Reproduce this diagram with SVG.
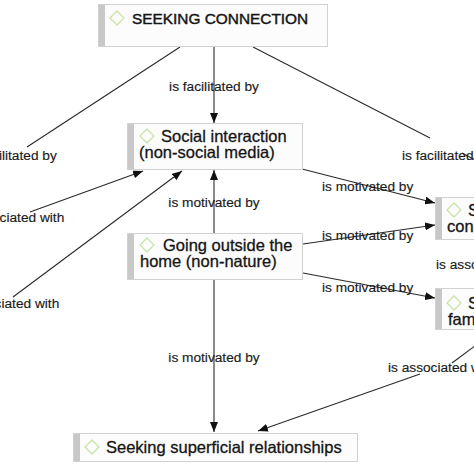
<svg xmlns="http://www.w3.org/2000/svg" width="474" height="474" viewBox="0 0 474 474">
<style>
.box{fill:#fcfcfc;stroke:#d2d2d2;stroke-width:1}
.stripe{fill:#c8c8c8}
.dia{fill:none;stroke:#c9e4a6;stroke-width:1.3}
.nt{font-family:"Liberation Sans",Arial,sans-serif;font-size:16.5px;fill:#151515;stroke:#151515;stroke-width:0.3}
.lb{font-family:"Liberation Sans",Arial,sans-serif;font-size:13.7px;fill:#1a1a1a;stroke:#1a1a1a;stroke-width:0.15}
.ln{stroke:#2a2a2a;stroke-width:1.1;fill:none}
.ar{marker-end:url(#ah)}
</style>
<defs>
<marker id="ah" markerUnits="userSpaceOnUse" markerWidth="10" markerHeight="8" refX="10" refY="4" orient="auto">
<path d="M0,0 L10,4 L0,8 z" fill="#111"/>
</marker>
</defs>
<rect width="474" height="474" fill="#ffffff"/>
<g id="connectors">
<line class="ln" x1="180" y1="47" x2="27" y2="147"/>
<line class="ln ar" x1="30" y1="212" x2="143" y2="171"/>
<line class="ln ar" x1="13" y1="297" x2="182" y2="171"/>
<line class="ln ar" x1="214" y1="47" x2="214" y2="123"/>
<line class="ln" x1="253" y1="47" x2="430" y2="138"/>
<line class="ln" x1="462" y1="153" x2="490" y2="168"/>
<line class="ln ar" x1="214" y1="233" x2="214" y2="170"/>
<line class="ln ar" x1="214" y1="280" x2="214" y2="432"/>
<line class="ln ar" x1="302" y1="169" x2="435" y2="203"/>
<line class="ln ar" x1="303" y1="244" x2="435" y2="225"/>
<line class="ln ar" x1="303" y1="273" x2="435" y2="298"/>
<line class="ln" x1="495" y1="331" x2="452" y2="363"/>
<line class="ln ar" x1="420" y1="374" x2="258" y2="431"/>
<text class="lb" x="-33" y="160">is facilitated by</text>
<text class="lb" x="-43" y="222">is associated with</text>
<text class="lb" x="-48" y="308">is associated with</text>
<text class="lb" x="214" y="91" text-anchor="middle">is facilitated by</text>
<text class="lb" x="402" y="160">is facilitated by</text>
<text class="lb" x="214" y="207" text-anchor="middle">is motivated by</text>
<text class="lb" x="322" y="191">is motivated by</text>
<text class="lb" x="322" y="240">is motivated by</text>
<text class="lb" x="322" y="292">is motivated by</text>
<text class="lb" x="214" y="362" text-anchor="middle">is motivated by</text>
<text class="lb" x="436" y="269">is associated with</text>
<text class="lb" x="388" y="372">is associated with</text>
</g>
<g id="seeking-connection">
<rect class="box" x="98.5" y="4.5" width="229" height="42"/>
<rect class="stripe" x="99" y="5" width="6" height="41"/>
<path class="dia" d="M117,11 L124,18 L117,25 L110,18 z"/>
<text class="nt" x="132" y="24" style="font-size:15.4px;stroke-width:0.45">SEEKING CONNECTION</text>
</g>
<g id="social-interaction">
<rect class="box" x="127.5" y="123.5" width="175" height="46"/>
<rect class="stripe" x="128" y="124" width="6" height="45"/>
<path class="dia" d="M147,129 L154,136 L147,143 L140,136 z"/>
<text class="nt" x="161" y="142">Social interaction</text>
<text class="nt" x="139" y="158">(non-social media)</text>
</g>
<g id="going-outside">
<rect class="box" x="127.5" y="233.5" width="175" height="46"/>
<rect class="stripe" x="128" y="234" width="6" height="45"/>
<path class="dia" d="M147,238 L154,245 L147,252 L140,245 z"/>
<text class="nt" x="163" y="251">Going outside the</text>
<text class="nt" x="140" y="267">home (non-nature)</text>
</g>
<g id="seeking-superficial">
<rect class="box" x="73.5" y="433.5" width="284" height="28"/>
<rect class="stripe" x="74" y="434" width="6" height="27"/>
<path class="dia" d="M92,440 L99,447 L92,454 L85,447 z"/>
<text class="nt" x="106" y="453">Seeking superficial relationships</text>
</g>
<g id="right-node-1">
<rect class="box" x="435.5" y="197.5" width="50" height="42"/>
<rect class="stripe" x="436" y="198" width="6" height="41"/>
<path class="dia" d="M454,203 L461,210 L454,217 L447,210 z"/>
<text class="nt" x="468" y="216">S</text>
<text class="nt" x="447" y="232">con</text>
</g>
<g id="right-node-2">
<rect class="box" x="435.5" y="288.5" width="50" height="41"/>
<rect class="stripe" x="436" y="289" width="6" height="40"/>
<path class="dia" d="M454,296 L461,303 L454,310 L447,303 z"/>
<text class="nt" x="468" y="309">S</text>
<text class="nt" x="448" y="325">fam</text>
</g>
</svg>
